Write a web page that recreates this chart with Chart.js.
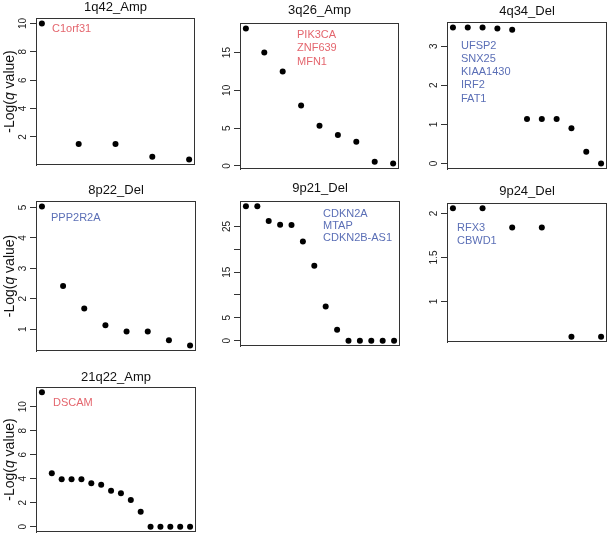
<!DOCTYPE html>
<html>
<head>
<meta charset="utf-8">
<script src="https://cdn.jsdelivr.net/npm/chart.js@4"></script>
<style>
  html, body { margin: 0; padding: 0; background: #fff; }
  #wrap { position: relative; width: 608px; height: 533px; }
  #wrap canvas { position: absolute; }
  .frame { position: absolute; box-sizing: border-box; border: 1px solid #333; pointer-events: none; }
</style>
</head>
<body>
<div id="wrap"></div>
<script>
// -Log(q value) per region
const amp1q42 = [10.0, 1.5, 1.5, 0.6, 0.4];
const amp3q26 = [18.2, 15.0, 12.5, 8.0, 5.3, 4.1, 3.2, 0.55, 0.3];
const del4q34 = [3.48, 3.48, 3.48, 3.45, 3.42, 1.14, 1.14, 1.14, 0.9, 0.3, 0.0];
const del8p22 = [5.03, 2.42, 1.68, 1.13, 0.93, 0.93, 0.64, 0.47];
const del9p21 = [29.4, 29.4, 26.2, 25.4, 25.3, 21.7, 16.4, 7.5, 2.4, 0, 0, 0, 0, 0];
const del9p24 = [2.06, 2.06, 1.84, 1.84, 0.6, 0.6];
const amp21q22 = [11.2, 4.45, 3.95, 3.95, 3.95, 3.62, 3.5, 3.0, 2.78, 2.22, 1.25, 0, 0, 0, 0, 0];

// tick values and their labels
const ticks1q42 = [2, 4, 6, 8, 10];
const ticks3q26 = [0, 5, 10, 15];
const ticks4q34 = [0, 1, 2, 3];
const ticks8p22 = [1, 2, 3, 4, 5];
const ticks9p21 = [0, 5, 10, 15, 20, 25];
const labels9p21 = ['0', '5', '', '15', '', '25'];
const ticks9p24 = [1, 1.5, 2];
const ticks21q22 = [0, 2, 4, 6, 8, 10];

// genes in each region
const genes1q42 = ['C1orf31'];
const genes3q26 = ['PIK3CA', 'ZNF639', 'MFN1'];
const genes4q34 = ['UFSP2', 'SNX25', 'KIAA1430', 'IRF2', 'FAT1'];
const genes8p22 = ['PPP2R2A'];
const genes9p21 = ['CDKN2A', 'MTAP', 'CDKN2B-AS1'];
const genes9p24 = ['RFX3', 'CBWD1'];
const genes21q22 = ['DSCAM'];

const RED = '#e4666e';
const BLUE = '#5b6fb6';
const FONT = "'Liberation Sans', Arial, sans-serif";
const YW = 30;      // width of the y axis box
const TL = 6;       // tick length
const GAP = 13;     // axis -> centre of tick label

// cell = canvas rect on the page, area = plot box on the page
const panels = [
  { title: '1q42_Amp', values: amp1q42, ticks: ticks1q42, genes: genes1q42, color: RED,
    cell: [0, 0, 200, 175], area: [36, 18, 195, 165], titleY: 7, geneAt: [52, 29], lh: 13.3, ylab: true },
  { title: '3q26_Amp', values: amp3q26, ticks: ticks3q26, genes: genes3q26, color: RED,
    cell: [200, 0, 400, 175], area: [240, 23, 399, 169], titleY: 10, geneAt: [297, 35], lh: 13.3 },
  { title: '4q34_Del', values: del4q34, ticks: ticks4q34, genes: genes4q34, color: BLUE,
    cell: [400, 0, 608, 175], area: [447, 22, 607, 169], titleY: 11, geneAt: [461, 45.7], lh: 13.2 },
  { title: '8p22_Del', values: del8p22, ticks: ticks8p22, genes: genes8p22, color: BLUE,
    cell: [0, 175, 200, 355], area: [36, 201, 196, 351], titleY: 190, geneAt: [51, 217.7], lh: 13.3, ylab: true },
  { title: '9p21_Del', values: del9p21, ticks: ticks9p21, tickLabels: labels9p21, genes: genes9p21, color: BLUE,
    cell: [200, 175, 400, 355], area: [240, 201, 400, 346], titleY: 188, geneAt: [323, 214.3], lh: 12 },
  { title: '9p24_Del', values: del9p24, ticks: ticks9p24, genes: genes9p24, color: BLUE,
    cell: [400, 175, 608, 355], area: [447, 203, 607, 342], titleY: 191, geneAt: [457, 227.7], lh: 13.3 },
  { title: '21q22_Amp', values: amp21q22, ticks: ticks21q22, genes: genes21q22, color: RED,
    cell: [0, 360, 200, 533], area: [36, 387, 196, 532], titleY: 377, geneAt: [53, 403], lh: 13.3, ylab: true }
];

const measure = document.createElement('canvas').getContext('2d');
measure.font = '10px ' + FONT;

// title, gene names and the y title
const textPlugin = {
  id: 'texts',
  afterDraw(chart) {
    const p = chart.$panel;
    const ox = p.cell[0], oy = p.cell[1];
    const { ctx, chartArea: a } = chart;

    ctx.save();
    ctx.fillStyle = '#111';
    ctx.font = '13px ' + FONT;
    ctx.textAlign = 'center';
    ctx.textBaseline = 'middle';
    ctx.fillText(p.title, (a.left + a.right) / 2, p.titleY - oy);
    ctx.fillStyle = p.color;
    ctx.font = '11px ' + FONT;
    ctx.textAlign = 'left';
    p.genes.forEach((g, i) => ctx.fillText(g, p.geneAt[0] - ox, p.geneAt[1] - oy + i * p.lh));
    ctx.restore();

    if (p.ylab) {
      const parts = [['-Log(', ''], ['q', 'italic '], [' value)', '']];
      ctx.save();
      ctx.fillStyle = '#111';
      ctx.textAlign = 'left';
      ctx.textBaseline = 'middle';
      let total = 0;
      parts.forEach(([s, st]) => { ctx.font = st + '14px ' + FONT; total += ctx.measureText(s).width; });
      ctx.translate(10 - ox, (a.top + a.bottom) / 2);
      ctx.rotate(-Math.PI / 2);
      let x = -total / 2;
      parts.forEach(([s, st]) => {
        ctx.font = st + '14px ' + FONT;
        ctx.fillText(s, x, 0);
        x += ctx.measureText(s).width;
      });
      ctx.restore();
    }
  }
};

const wrap = document.getElementById('wrap');

panels.forEach(p => {
  const [cx, cy, cr, cb] = p.cell;
  const cw = cr - cx, chh = cb - cy;
  const cv = document.createElement('canvas');
  cv.width = cw; cv.height = chh;
  cv.style.left = cx + 'px'; cv.style.top = cy + 'px';
  wrap.appendChild(cv);

  const n = p.values.length;
  const lo = Math.min(...p.values), hi = Math.max(...p.values);
  const yext = (hi - lo) * 0.04;
  const xext = (n - 1) * 0.04;
  const labels = p.tickLabels || p.ticks.map(String);
  const widest = Math.max(...labels.map(s => measure.measureText(s).width));

  const chart = new Chart(cv, {
    type: 'scatter',
    data: {
      datasets: [{
        data: p.values.map((v, i) => ({ x: i + 1, y: v })),
        pointRadius: 3,
        pointBackgroundColor: '#000',
        pointBorderWidth: 0,
        clip: false
      }]
    },
    options: {
      responsive: false,
      animation: false,
      devicePixelRatio: 1,
      layout: { autoPadding: false, padding: {
        left: p.area[0] - cx - YW, top: p.area[1] - cy,
        right: cr - p.area[2], bottom: cb - p.area[3] } },
      plugins: { legend: { display: false }, tooltip: { enabled: false } },
      scales: {
        x: { type: 'linear', display: false, min: 1 - xext, max: n + xext },
        y: {
          type: 'linear',
          min: lo - yext,
          max: hi + yext,
          afterFit: s => { s.width = YW; s.paddingTop = 0; s.paddingBottom = 0; },
          afterBuildTicks: s => { s.ticks = p.ticks.map(v => ({ value: v })); },
          grid: { drawOnChartArea: false, tickLength: TL, color: '#333' },
          border: { color: '#333' },
          ticks: {
            autoSkip: false,
            minRotation: 90,
            maxRotation: 90,
            crossAlign: 'center',
            padding: GAP - TL - widest / 2,
            color: '#222',
            font: { family: FONT, size: 10 },
            callback: (v, i) => labels[i]
          }
        }
      }
    },
    plugins: [{ id: 'panelRef', beforeInit(c) { c.$panel = p; } }, textPlugin]
  });

  // plot box, laid over the chart area
  const a = chart.chartArea;
  const fr = document.createElement('div');
  fr.className = 'frame';
  fr.style.left = (cx + Math.round(a.left)) + 'px';
  fr.style.top = (cy + Math.round(a.top)) + 'px';
  fr.style.width = (Math.round(a.right) - Math.round(a.left)) + 'px';
  fr.style.height = (Math.round(a.bottom) - Math.round(a.top)) + 'px';
  wrap.appendChild(fr);
});
</script>
</body>
</html>
